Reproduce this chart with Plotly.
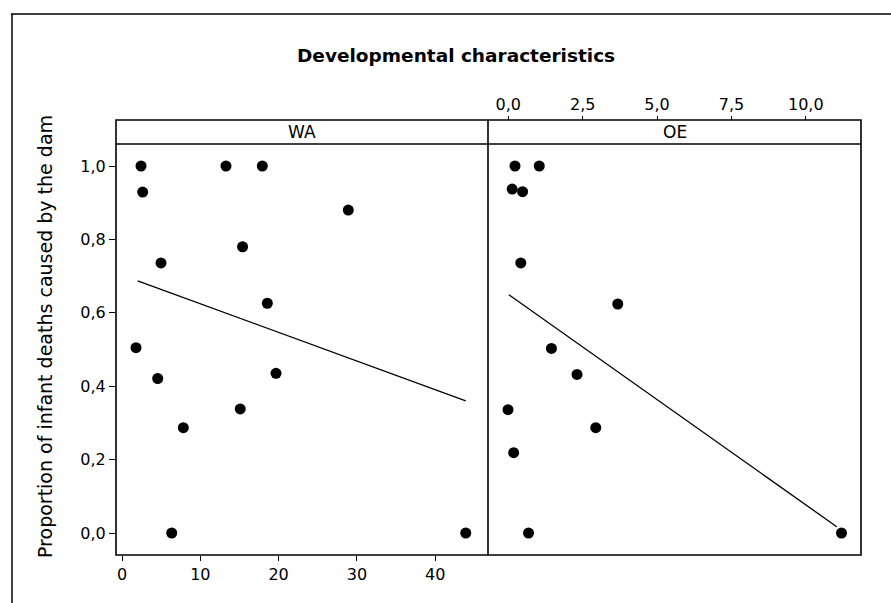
import plotly.graph_objects as go

# ---- data ----
wa_x = [2.43, 2.64, 13.28, 17.92, 28.9, 15.4, 4.98, 18.56, 1.79, 4.56, 19.67, 15.1, 7.83, 6.35, 43.9]
wa_y = [1.0, 0.929, 1.0, 1.0, 0.88, 0.78, 0.736, 0.626, 0.505, 0.421, 0.435, 0.338, 0.287, 0.0, 0.0]
wa_fit_x = [2.0, 43.9]
wa_fit_y = [0.687, 0.36]

oe_x = [0.225, 1.04, 0.13, 0.48, 0.42, 3.68, 1.45, 2.31, -0.01, 2.94, 0.18, 0.68, 11.2]
oe_y = [1.0, 1.0, 0.937, 0.93, 0.736, 0.624, 0.503, 0.432, 0.336, 0.287, 0.219, 0.0, 0.0]
oe_fit_x = [0.02, 11.04]
oe_fit_y = [0.649, 0.017]

panel_labels = ["WA", "OE"]
wa_ticks = [0, 10, 20, 30, 40]
oe_ticks = [0, 2.5, 5, 7.5, 10]
y_ticks = [0, 0.2, 0.4, 0.6, 0.8, 1.0]
title_text = "Developmental characteristics"
y_title = "Proportion of infant deaths caused by the dam"

# ---- layout helpers (pixel -> paper) ----
W, H = 891, 603
def px(x):
    return x / W
def py(y):
    return 1 - y / H

L, MID, R = 116, 488, 861
STRIP_TOP, PLOT_TOP, PLOT_BOT = 120, 144, 555

FONT = "DejaVu Sans"
marker = dict(color="black", size=11)

fig = go.Figure()
fig.add_trace(go.Scatter(x=wa_x, y=wa_y, mode="markers", marker=marker,
                         xaxis="x", yaxis="y", showlegend=False))
fig.add_trace(go.Scatter(x=wa_fit_x, y=wa_fit_y, mode="lines",
                         line=dict(color="black", width=1.3),
                         xaxis="x", yaxis="y", showlegend=False))
fig.add_trace(go.Scatter(x=oe_x, y=oe_y, mode="markers", marker=marker,
                         xaxis="x2", yaxis="y", showlegend=False))
fig.add_trace(go.Scatter(x=oe_fit_x, y=oe_fit_y, mode="lines",
                         line=dict(color="black", width=1.3),
                         xaxis="x2", yaxis="y", showlegend=False))
fig.add_trace(go.Scatter(x=[], y=[], xaxis="x3", yaxis="y", showlegend=False))

wa_range = [(L - 122) / 7.83, (MID - 122) / 7.83]
oe_range = [(MID - 508.3) / 29.75, (R - 508.3) / 29.75]
y_range = [(533 - PLOT_BOT) / 367, (533 - PLOT_TOP) / 367]

tickfont = dict(family=FONT, size=16, color="black")

fig.update_layout(
    width=W, height=H, autosize=False,
    margin=dict(l=0, r=0, t=0, b=0),
    paper_bgcolor="white", plot_bgcolor="white",
    separators=",.",
    xaxis=dict(domain=[px(L), px(MID)], range=wa_range, tickvals=wa_ticks,
               ticks="outside", ticklen=5, tickcolor="black", tickwidth=1.3,
               showline=False, showgrid=False, zeroline=False,
               tickfont=tickfont, anchor="y"),
    xaxis2=dict(domain=[px(MID), px(R)], range=oe_range,
                showticklabels=False, ticks="", showline=False,
                showgrid=False, zeroline=False, anchor="y"),
    xaxis3=dict(overlaying="x2", range=oe_range, tickvals=oe_ticks, tickformat=".1f",
                side="top", anchor="free", position=py(STRIP_TOP),
                ticks="outside", ticklen=4, tickcolor="black", tickwidth=1.3,
                showline=False, showgrid=False, zeroline=False, tickfont=tickfont),
    yaxis=dict(domain=[py(PLOT_BOT), py(PLOT_TOP)], range=y_range,
               tickvals=y_ticks, tickformat=".1f",
               ticks="outside", ticklen=6, tickcolor="black", tickwidth=1.3,
               showline=False, showgrid=False, zeroline=False,
               tickfont=tickfont, anchor="x"),
)

line_style = dict(color="black", width=1.6)
shapes = [
    # plotting frame
    dict(type="rect", xref="paper", yref="paper", x0=px(L), x1=px(R),
         y0=py(PLOT_BOT), y1=py(STRIP_TOP), line=line_style),
    # strip bottom
    dict(type="line", xref="paper", yref="paper", x0=px(L), x1=px(R),
         y0=py(PLOT_TOP), y1=py(PLOT_TOP), line=line_style),
    # divider
    dict(type="line", xref="paper", yref="paper", x0=px(MID), x1=px(MID),
         y0=py(PLOT_BOT), y1=py(STRIP_TOP), line=line_style),
    # outer page frame
    dict(type="line", xref="paper", yref="paper", x0=px(11), x1=1.0,
         y0=py(14), y1=py(14), line=dict(color="black", width=1.5)),
    dict(type="line", xref="paper", yref="paper", x0=px(12), x1=px(12),
         y0=py(14), y1=0.0, line=dict(color="black", width=1.5)),
]
fig.update_layout(shapes=shapes)

annotations = [
    dict(text="<b>" + title_text + "</b>", x=px(456), y=py(55), xref="paper", yref="paper",
         showarrow=False, font=dict(family=FONT, size=18.5, color="black"),
         xanchor="center", yanchor="middle"),
    dict(text=y_title, x=px(45), y=py(337), xref="paper", yref="paper",
         showarrow=False, textangle=-90, font=dict(family=FONT, size=19, color="black"),
         xanchor="center", yanchor="middle"),
    dict(text=panel_labels[0], x=px((L + MID) / 2), y=py(132), xref="paper", yref="paper",
         showarrow=False, font=dict(family=FONT, size=17, color="black"),
         xanchor="center", yanchor="middle"),
    dict(text=panel_labels[1], x=px((MID + R) / 2), y=py(132), xref="paper", yref="paper",
         showarrow=False, font=dict(family=FONT, size=17, color="black"),
         xanchor="center", yanchor="middle"),
]
fig.update_layout(annotations=annotations)

fig.write_html("out.html")
